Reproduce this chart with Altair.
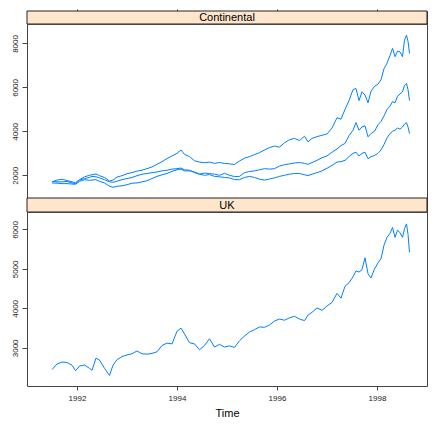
import altair as alt
import pandas as pd

# time points (years)
T = [1991.50, 1991.60, 1991.70, 1991.80, 1991.90, 1991.97,
     1992.05, 1992.15, 1992.25, 1992.30, 1992.38, 1992.45, 1992.55, 1992.65, 1992.72, 1992.80, 1992.90,
     1993.00, 1993.10, 1993.20, 1993.30, 1993.40, 1993.50, 1993.60, 1993.70, 1993.80, 1993.90,
     1994.00, 1994.08, 1994.15, 1994.25, 1994.35, 1994.45, 1994.55, 1994.65, 1994.75, 1994.85, 1994.95,
     1995.05, 1995.15, 1995.25, 1995.35, 1995.45, 1995.55, 1995.65, 1995.75, 1995.85, 1995.95,
     1996.05, 1996.15, 1996.25, 1996.35, 1996.45, 1996.55, 1996.62, 1996.70, 1996.80, 1996.90,
     1997.00, 1997.10, 1997.20, 1997.28, 1997.36, 1997.44, 1997.52, 1997.58, 1997.64, 1997.70, 1997.76, 1997.82, 1997.88, 1997.95,
     1998.02, 1998.08, 1998.14, 1998.20, 1998.26, 1998.31, 1998.36, 1998.41, 1998.46, 1998.51, 1998.55, 1998.59, 1998.62, 1998.65]

SMI = [1700, 1780, 1820, 1760, 1700, 1660,
       1800, 1930, 2000, 2020, 2060, 1980, 1900, 1740, 1780, 1920, 1980,
       2070, 2120, 2190, 2230, 2300, 2380, 2500, 2620, 2760, 2880,
       3000, 3150, 2950, 2850, 2660, 2600, 2570, 2600, 2540, 2580, 2540,
       2520, 2490, 2650, 2780, 2850, 2940, 3030, 3150, 3260, 3330,
       3280, 3480, 3620, 3680, 3580, 3780, 3520, 3680, 3760, 3820,
       3880, 4150, 4620, 4550, 5000, 5400, 5900, 5950, 5400, 5800, 5650, 5300, 5820, 6050,
       6150, 6350, 6850, 7100, 7450, 7780, 7400, 7650, 7620, 7400, 8150, 8380, 8100, 7550]

DAX = [1650, 1640, 1620, 1620, 1600, 1590,
       1720, 1800, 1770, 1780, 1800, 1720, 1650, 1500, 1450, 1500, 1520,
       1570, 1640, 1650, 1700, 1750, 1850, 1950, 2020, 2080, 2180,
       2250, 2280, 2200, 2200, 2150, 2050, 2100, 2080, 2050, 2000, 2090,
       2000, 1940, 1950, 2120, 2170, 2200, 2250, 2300, 2280, 2300,
       2420, 2480, 2520, 2560, 2580, 2540, 2500, 2580, 2680, 2800,
       2880, 3050, 3200, 3350, 3450, 3800, 4050, 4400, 4050, 4200, 4250, 3750, 3900, 4000,
       4300, 4450, 4700, 5000, 5150, 5350, 5300, 5600, 5700, 5800, 6100, 6180, 5900, 5400]

CAC = [1720, 1700, 1700, 1720, 1650, 1620,
       1780, 1850, 1900, 1950, 1930, 1880, 1800, 1700, 1680, 1730, 1800,
       1850, 1900, 1980, 2050, 2080, 2120, 2150, 2200, 2230, 2280,
       2300, 2330, 2250, 2230, 2120, 2050, 2000, 2030, 1950, 1930, 1900,
       1880, 1800, 1800, 1900, 1950, 1900, 1820, 1780, 1830, 1880,
       1950, 2000, 2050, 2080, 2080, 2020, 1990, 2050, 2120, 2200,
       2320, 2450, 2600, 2620, 2680, 2850, 3000, 3050, 2880, 3000, 3050, 2750, 2850, 2900,
       3000, 3150, 3400, 3700, 3900, 4000, 4050, 4150, 4100, 4200, 4330, 4390, 4200, 3900]

FTSE = [2450, 2590, 2640, 2630, 2560, 2420,
        2540, 2565, 2480, 2430, 2740, 2690, 2480, 2300, 2560, 2700, 2780,
        2820, 2850, 2920, 2850, 2840, 2860, 2900, 3060, 3120, 3100,
        3420, 3500, 3350, 3130, 3100, 2950, 3060, 3230, 3020, 3090, 3020,
        3050, 3010, 3180, 3300, 3400, 3460, 3530, 3520, 3580, 3680,
        3730, 3700, 3760, 3800, 3730, 3690, 3830, 3900, 4010, 3950,
        4060, 4150, 4380, 4260, 4560, 4650, 4800, 4950, 4920, 4980, 5280, 4880, 4770, 5000,
        5150, 5260, 5600, 5800, 5900, 6050, 5800, 5980, 5920, 5800, 6020, 6140, 5880, 5420]

XTICKS = [1992, 1994, 1996, 1998]
TOP_TICKS = [2000, 4000, 6000, 8000]
UK_TICKS = [3000, 4000, 5000, 6000]

n = len(T)
cont = pd.DataFrame({
    "t": T * 3,
    "v": SMI + DAX + CAC,
    "s": ["SMI"] * n + ["DAX"] * n + ["CAC"] * n,
})
uk = pd.DataFrame({"t": T, "v": FTSE})

W = 400
PH = 174
BLUE = "#0080ff"
XSCALE = alt.Scale(domain=[1991.0, 1999.0], nice=False, zero=False)
FONT = "Liberation Sans"


def strip(label, h, top_axis):
    base = alt.Chart(pd.DataFrame({"t": [1995.0], "label": [label]}))
    rect = base.mark_rect(fill="#ffe5cc", stroke="#222", strokeWidth=1).encode(
        x=alt.value(0), x2=alt.value(W), y=alt.value(0), y2=alt.value(h)
    )
    text = base.mark_text(fontSize=11, font=FONT, color="black", baseline="middle", dy=0.5).encode(
        x=alt.value(W / 2), y=alt.value(h / 2), text="label:N"
    )
    if top_axis:
        ax = alt.Axis(orient="top", values=XTICKS, labels=False, ticks=True, tickSize=2,
                      domain=False, grid=False, title=None, tickColor="#444")
    else:
        ax = None
    pt = base.mark_point(opacity=0).encode(x=alt.X("t:Q", scale=XSCALE, axis=ax))
    return alt.layer(rect, text, pt).properties(width=W, height=h)


yaxis_common = dict(labelAngle=270, format="d", grid=False, domain=False, tickSize=5,
                    labelPadding=3, labelFontSize=8, labelFont=FONT, labelColor="#222",
                    tickColor="#444", title=None)

top = alt.Chart(cont).mark_line(color=BLUE, strokeWidth=1).encode(
    x=alt.X("t:Q", scale=XSCALE, axis=None),
    y=alt.Y("v:Q", scale=alt.Scale(domain=[965, 8887], nice=False, zero=False),
            axis=alt.Axis(values=TOP_TICKS, **yaxis_common)),
    detail="s:N",
).properties(width=W, height=PH)

bottom = alt.Chart(uk).mark_line(color=BLUE, strokeWidth=1).encode(
    x=alt.X("t:Q", scale=XSCALE,
            axis=alt.Axis(values=XTICKS, format="d", grid=False, domain=False, tickSize=4,
                          labelPadding=4, labelFontSize=8, labelFont=FONT, labelColor="#222",
                          tickColor="#444", title="Time", titleFont=FONT, titleFontSize=11,
                          titleFontWeight="normal", titleColor="black", titlePadding=5)),
    y=alt.Y("v:Q", scale=alt.Scale(domain=[2033, 6442], nice=False, zero=False),
            axis=alt.Axis(values=UK_TICKS, **yaxis_common)),
).properties(width=W, height=PH)

chart = alt.vconcat(
    strip("Continental", 13, True), top, strip("UK", 14, False), bottom,
    spacing=0, bounds="flush"
).properties(
    padding={"left": 2, "top": 0, "right": 0, "bottom": 0}
).configure_view(stroke="#444", strokeWidth=1).configure_concat(spacing=0)

chart.save("out.html", embed_options={"renderer": "svg", "actions": False})
